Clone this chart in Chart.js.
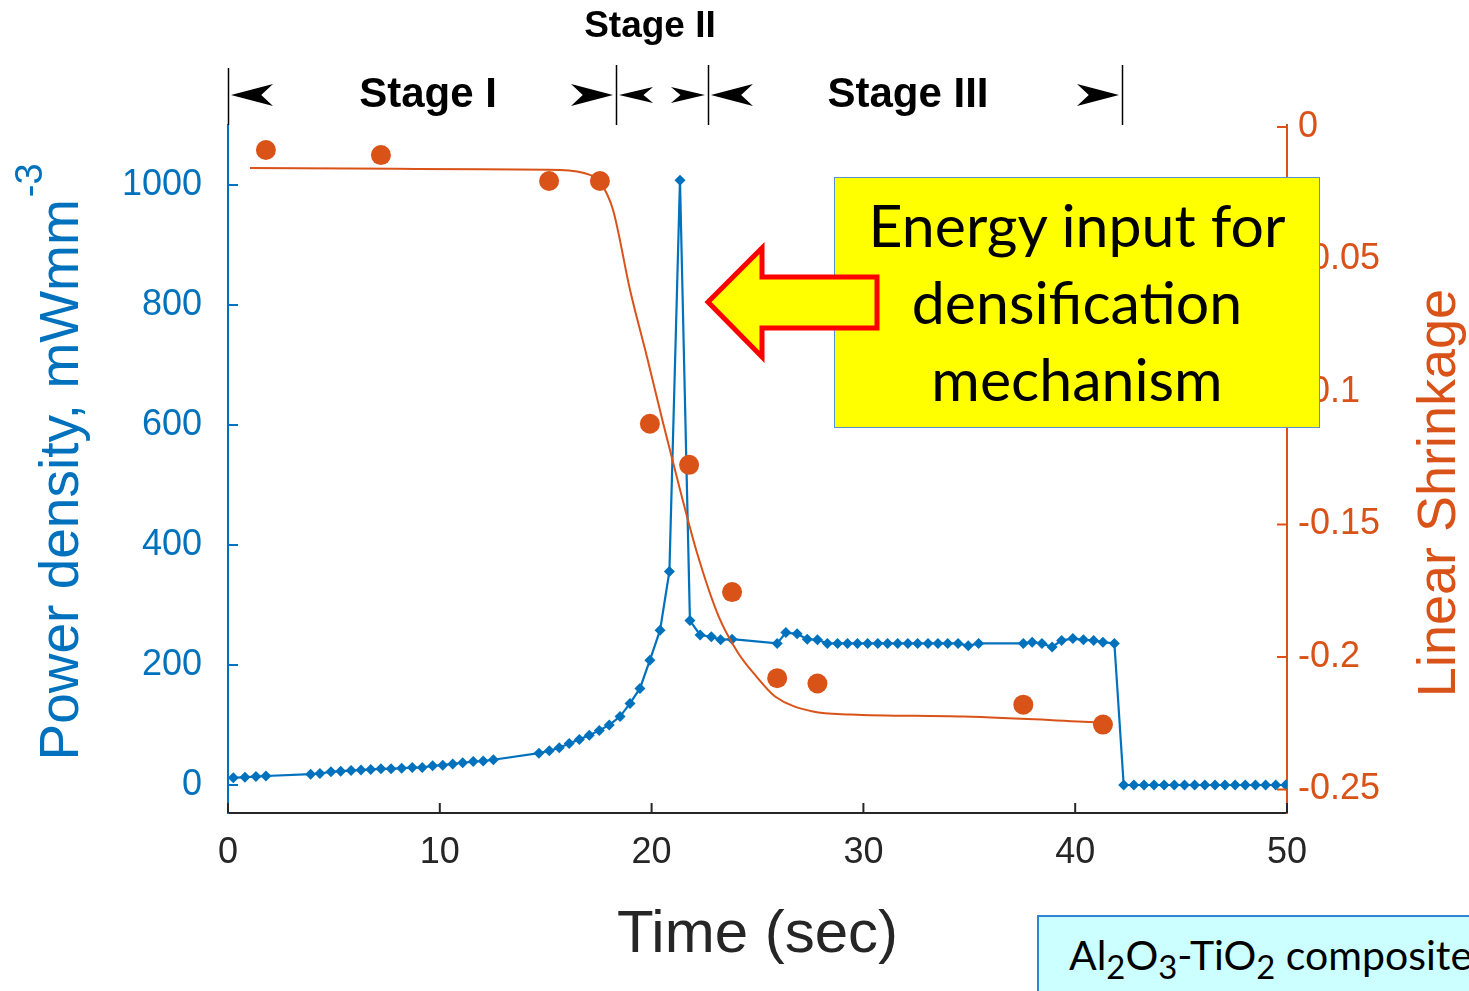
<!DOCTYPE html>
<html>
<head>
<meta charset="utf-8">
<title>Power density and linear shrinkage</title>
<script src="https://cdn.jsdelivr.net/npm/chart.js@4.4.1/dist/chart.umd.min.js"></script>
<style>
  html, body { margin: 0; padding: 0; background: #fff; overflow: hidden; }
  #wrap { position: relative; width: 1469px; height: 991px; }
  #chart { position: absolute; left: 0; top: 0; }
  #energy-box {
    position: absolute; left: 834px; top: 177px; width: 484px;
    background: #ffff00; border: 1px solid #5b8fd0;
    font-family: Lato, "Open Sans", sans-serif; font-size: 59px; line-height: 77px;
    color: #000; text-align: center; box-sizing: content-box;
    padding-top: 8px; height: 241px;
  }
  #arrow { position: absolute; left: 0; top: 0; }
  #sample-box {
    position: absolute; left: 1037px; top: 915px; width: 460px; height: 80px;
    background: #ccffff; border: 2px solid #2e86d0; box-sizing: border-box;
    font-family: Lato, "Open Sans", sans-serif; font-size: 41px; line-height: 76px;
    padding-left: 30px; white-space: nowrap; color: #000;
  }
  #sample-box sub { font-size: 0.8em; vertical-align: -0.28em; line-height: 0; }
</style>
</head>
<body>
<div id="wrap">
  <canvas id="chart" width="1469" height="991"></canvas>
  <div id="energy-box">Energy input for<br>densification<br>mechanism</div>
  <svg id="arrow" width="1469" height="991">
    <polygon points="708,302 762,248 762,277 877,277 877,328 762,328 762,357"
             fill="#ffff00" stroke="#ff0000" stroke-width="5" stroke-linejoin="miter"/>
  </svg>
  <div id="sample-box">Al<sub>2</sub>O<sub>3</sub>-TiO<sub>2</sub> composite</div>
</div>

<script>
// power density (left axis)
const powerTime = [0.25, 0.8, 1.32, 1.79,
  3.9, 4.34, 4.86, 5.32, 5.81, 6.28, 6.74, 7.22, 7.70, 8.20, 8.70, 9.17, 9.66, 10.14, 10.61, 11.08, 11.58, 12.05, 12.53,
  14.68, 15.17, 15.64, 16.11, 16.59, 17.06, 17.53, 18.0, 18.51, 18.98, 19.45, 19.92, 20.40, 20.84,
  21.34, 21.81, 22.29, 22.82, 23.26, 23.8,
  25.93, 26.34, 26.87, 27.35, 27.83, 28.3, 28.78, 29.25, 29.72, 30.2, 30.68, 31.14, 31.62, 32.1, 32.56, 33.05,
  33.52, 33.98, 34.47, 34.95, 35.44,
  37.55, 37.97, 38.43, 38.91, 39.36, 39.89, 40.39, 40.87, 41.31, 41.85,
  42.29, 42.77, 43.25, 43.72, 44.2, 44.68, 45.16, 45.64, 46.12, 46.6, 47.07, 47.55, 48.03, 48.51, 48.99, 49.47, 49.94];
const powerDensity = [12, 13, 14, 15,
  18, 19, 22, 23, 24, 25, 26, 27, 27, 28, 29, 29, 32, 33, 35, 37, 39, 40, 42,
  53, 57, 62, 69, 76, 83, 91, 100, 114, 136, 161, 208, 258, 356,
  1008, 274, 250, 247, 242, 243,
  236, 254, 252, 243, 242, 236, 236, 236, 236, 236, 236, 236, 236, 236, 236, 236,
  236, 236, 236, 232, 236,
  236, 238, 236, 230, 241, 244, 242, 241, 238, 236,
  0, 0, 0, 0, 0, 0, 0, 0, 0, 0, 0, 0, 0, 0, 0, 0, 0];

// measured linear shrinkage (right axis)
const shrinkTime = [1.79, 7.22, 15.16, 17.56, 19.92, 21.77, 23.8, 25.93, 27.83, 37.55, 41.31];
const shrinkValue = [-0.0087, -0.0106, -0.0204, -0.0204, -0.112, -0.1275, -0.1755, -0.208, -0.21, -0.218, -0.2255];

// fitted shrinkage curve (right axis)
const fitTime = [1.04, 8.0, 15.68, 17.09, 17.56, 18.18, 18.98, 19.78, 20.54, 21.34, 22.14, 23.17,
  24.07, 24.95, 25.83, 27.62, 29.4, 34.73, 41.31];
const fitValue = [-0.0155, -0.0158, -0.0162, -0.0181, -0.0207, -0.0313, -0.0614, -0.0867, -0.1116, -0.1368,
  -0.1606, -0.1848, -0.1983, -0.2074, -0.2149, -0.2206, -0.2217, -0.2225, -0.2247];

// axes
const timeTicks = [0, 10, 20, 30, 40, 50];
const timeTickLabels = ['0', '10', '20', '30', '40', '50'];
const powerTicks = [0, 200, 400, 600, 800, 1000];
const powerTickLabels = ['0', '200', '400', '600', '800', '1000'];
const shrinkTicks = [-0.25, -0.2, -0.15, -0.1, -0.05, 0];
const shrinkTickLabels = ['-0.25', '-0.2', '-0.15', '-0.1', '-0.05', '0'];

// stage bands along the top
const stageEdges = [0, 18.32, 22.66, 42.21];
const stageNames = ['Stage I', 'Stage II', 'Stage III'];

const BLUE = '#0072bd';
const ORANGE = '#d95319';
const DARK = '#262626';
const TICK_FONT = { family: '"Liberation Sans", Arial, sans-serif', size: 36 };

function xy(xs, ys) {
  return xs.map((x, i) => ({ x: x, y: ys[i] }));
}

function arrowHead(ctx, tipX, tipY, dir, len, half) {
  // dir = -1 points left, +1 points right
  ctx.beginPath();
  ctx.moveTo(tipX, tipY);
  ctx.lineTo(tipX - dir * len, tipY - half);
  ctx.lineTo(tipX - dir * len * 0.72, tipY);
  ctx.lineTo(tipX - dir * len, tipY + half);
  ctx.closePath();
  ctx.fill();
}

const decorations = {
  id: 'decorations',
  afterDraw(chart) {
    const { ctx, chartArea: a, scales } = chart;
    const { x, y, y1 } = scales;
    ctx.save();

    // inward tick marks, matlab style
    ctx.lineWidth = 2;
    ctx.strokeStyle = BLUE;
    powerTicks.forEach(v => {
      const py = y.getPixelForValue(v);
      ctx.beginPath(); ctx.moveTo(a.left, py); ctx.lineTo(a.left + 10, py); ctx.stroke();
    });
    ctx.strokeStyle = ORANGE;
    shrinkTicks.forEach(v => {
      const py = y1.getPixelForValue(v);
      ctx.beginPath(); ctx.moveTo(a.right, py); ctx.lineTo(a.right - 10, py); ctx.stroke();
    });
    ctx.strokeStyle = DARK;
    timeTicks.forEach(v => {
      const px = x.getPixelForValue(v);
      ctx.beginPath(); ctx.moveTo(px, a.bottom); ctx.lineTo(px, a.bottom - 10); ctx.stroke();
    });

    // axis titles
    ctx.fillStyle = DARK;
    ctx.font = '60px "Liberation Sans", Arial, sans-serif';
    ctx.textAlign = 'center';
    ctx.textBaseline = 'alphabetic';
    ctx.fillText('Time (sec)', (a.left + a.right) / 2, 952);

    // left title with superscript
    const mainTxt = 'Power density, mWmm';
    const supTxt = '-3';
    ctx.font = '55px "Liberation Sans", Arial, sans-serif';
    const wMain = ctx.measureText(mainTxt).width;
    ctx.font = '38px "Liberation Sans", Arial, sans-serif';
    const wSup = ctx.measureText(supTxt).width;
    const cy = (a.top + a.bottom) / 2 - 6;
    ctx.save();
    ctx.translate(78, cy);
    ctx.rotate(-Math.PI / 2);
    ctx.fillStyle = BLUE;
    ctx.textAlign = 'left';
    const start = -(wMain + wSup) / 2;
    ctx.font = '55px "Liberation Sans", Arial, sans-serif';
    ctx.fillText(mainTxt, start, 0);
    ctx.font = '38px "Liberation Sans", Arial, sans-serif';
    ctx.fillText(supTxt, start + wMain + 2, -36);
    ctx.restore();

    // right title
    ctx.save();
    ctx.translate(1455, (a.top + a.bottom) / 2 + 24);
    ctx.rotate(-Math.PI / 2);
    ctx.fillStyle = ORANGE;
    ctx.textAlign = 'center';
    ctx.font = '54px "Liberation Sans", Arial, sans-serif';
    ctx.fillText('Linear Shrinkage', 0, 0);
    ctx.restore();

    // stage markers
    ctx.strokeStyle = '#000';
    ctx.fillStyle = '#000';
    ctx.lineWidth = 1.5;
    stageEdges.forEach((e, i) => {
      const px = Math.round(x.getPixelForValue(e)) + 0.5;
      ctx.beginPath(); ctx.moveTo(px, i === 0 ? 68 : 65); ctx.lineTo(px, a.top); ctx.stroke();
    });
    const rowY = 95;
    const labelShift = [6, -12, -7];
    stageNames.forEach((name, i) => {
      const x0 = x.getPixelForValue(stageEdges[i]);
      const x1 = x.getPixelForValue(stageEdges[i + 1]);
      const small = i === 1;
      const len = small ? 34 : 42;
      const half = small ? 8 : 11;
      arrowHead(ctx, x0 + 3, rowY, -1, len, half);
      arrowHead(ctx, x1 - 3, rowY, 1, len, half);
      ctx.textAlign = 'center';
      ctx.textBaseline = 'middle';
      if (small) {
        ctx.font = 'bold 37px "Liberation Sans", Arial, sans-serif';
        ctx.fillText(name, (x0 + x1) / 2 + labelShift[i], 27);
      } else {
        ctx.font = 'bold 42px "Liberation Sans", Arial, sans-serif';
        ctx.fillText(name, (x0 + x1) / 2 + labelShift[i], rowY);
      }
    });

    ctx.restore();
  }
};

new Chart(document.getElementById('chart'), {
  type: 'line',
  data: {
    datasets: [
      {
        label: 'Fit',
        data: xy(fitTime, fitValue),
        yAxisID: 'y1',
        borderColor: ORANGE,
        borderWidth: 2,
        pointRadius: 0,
        cubicInterpolationMode: 'monotone',
        fill: false,
        order: 1
      },
      {
        label: 'Power density',
        data: xy(powerTime, powerDensity),
        yAxisID: 'y',
        borderColor: BLUE,
        backgroundColor: BLUE,
        borderWidth: 2.2,
        pointStyle: 'rectRot',
        pointRadius: 5.5,
        pointBorderWidth: 0,
        tension: 0,
        fill: false,
        order: 2
      },
      {
        label: 'Linear shrinkage',
        data: xy(shrinkTime, shrinkValue),
        yAxisID: 'y1',
        showLine: false,
        pointRadius: 10,
        pointBackgroundColor: ORANGE,
        pointBorderWidth: 0,
        order: 0
      }
    ]
  },
  options: {
    responsive: false,
    animation: false,
    devicePixelRatio: 1,
    layout: { padding: { top: 125, left: 0, right: 0, bottom: 0 } },
    plugins: { legend: { display: false }, tooltip: { enabled: false } },
    scales: {
      x: {
        type: 'linear',
        min: 0, max: 50,
        grid: { display: false, drawTicks: false },
        border: { display: true, color: DARK, width: 2 },
        afterBuildTicks: s => { s.ticks = timeTicks.map(v => ({ value: v })); },
        afterFit: s => { s.height = 178; },
        ticks: {
          color: DARK, font: TICK_FONT, padding: 18, maxRotation: 0, autoSkip: false,
          callback: (v, i) => timeTickLabels[i]
        }
      },
      y: {
        type: 'linear',
        position: 'left',
        min: -46.7, max: 1100,
        grid: { display: false, drawTicks: false },
        border: { display: true, color: BLUE, width: 2 },
        afterBuildTicks: s => { s.ticks = powerTicks.map(v => ({ value: v })); },
        afterFit: s => { s.width = 228; },
        ticks: {
          color: BLUE, font: TICK_FONT, padding: 26,
          callback: (v, i) => powerTickLabels[i]
        }
      },
      y1: {
        type: 'linear',
        position: 'right',
        min: -0.25887, max: 0.00075,
        grid: { display: false, drawTicks: false },
        border: { display: true, color: ORANGE, width: 2 },
        afterBuildTicks: s => { s.ticks = shrinkTicks.map(v => ({ value: v })); },
        afterFit: s => { s.width = 182; },
        ticks: {
          color: ORANGE, font: TICK_FONT, padding: 11,
          callback: (v, i) => shrinkTickLabels[i]
        }
      }
    }
  },
  plugins: [decorations]
});
</script>
</body>
</html>
